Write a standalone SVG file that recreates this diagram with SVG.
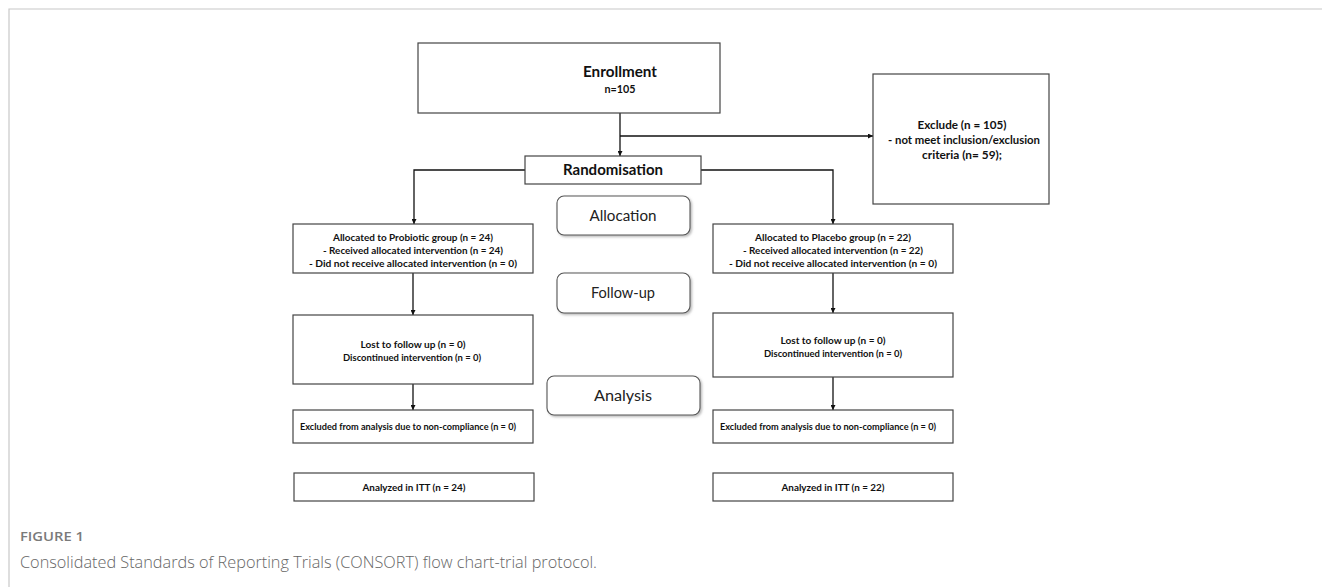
<svg xmlns="http://www.w3.org/2000/svg" width="1322" height="587" viewBox="0 0 1322 587">
<defs>
<marker id="arr" viewBox="0 0 10 10" refX="10" refY="5" markerWidth="5" markerHeight="5" markerUnits="userSpaceOnUse" orient="auto">
<path d="M0,0 L10,5 L0,10 z" fill="#111"/>
</marker>
<filter id="sh" x="-10%" y="-20%" width="130%" height="150%">
<feDropShadow dx="1.5" dy="1.5" stdDeviation="1" flood-color="#888" flood-opacity="0.6"/>
</filter>
</defs>
<style>
.box{fill:#fff;stroke:#444;stroke-width:1.2}
.rbox{fill:#fff;stroke:#555;stroke-width:1.1}
.t{font-family:Lato,"Liberation Sans",sans-serif;font-weight:bold;fill:#111;text-anchor:middle}
.s{font-family:Lato,"Liberation Sans",sans-serif;font-weight:normal;fill:#222;text-anchor:middle;font-size:15.5px}
.c{stroke:#111;stroke-width:1.3;fill:none}
.frame{stroke:#c8c8c8;stroke-width:1.2;fill:none}
.cap{font-family:"Open Sans","Liberation Sans",sans-serif;fill:#666}
</style>
<rect width="1322" height="587" fill="#fff"/>
<path class="frame" d="M9,587 L9,9 L1322,9"/>

<g id="connectors">
<path class="c" d="M620,113 L620,156" marker-end="url(#arr)"/>
<path class="c" d="M620,136 L873,136" marker-end="url(#arr)"/>
<path class="c" d="M525,170 L414,170 L414,224" marker-end="url(#arr)"/>
<path class="c" d="M701,170 L833,170 L833,224" marker-end="url(#arr)"/>
<path class="c" d="M413,273 L413,315" marker-end="url(#arr)"/>
<path class="c" d="M833,273 L833,313" marker-end="url(#arr)"/>
<path class="c" d="M413,384 L413,410" marker-end="url(#arr)"/>
<path class="c" d="M833,377 L833,410" marker-end="url(#arr)"/>
</g>

<g id="enrollment">
<rect class="box" x="418" y="43" width="302" height="70"/>
<text class="t" x="620" y="77" font-size="15" textLength="74" lengthAdjust="spacingAndGlyphs">Enrollment</text>
<text class="t" x="620" y="93" font-size="11" textLength="31" lengthAdjust="spacingAndGlyphs">n=105</text>
</g>

<g id="exclude">
<rect class="box" x="873" y="74" width="176" height="130"/>
<text class="t" x="962" y="129" font-size="12" textLength="89" lengthAdjust="spacingAndGlyphs">Exclude (n = 105)</text>
<text class="t" x="964" y="144" font-size="12" textLength="152" lengthAdjust="spacingAndGlyphs">- not meet inclusion/exclusion</text>
<text class="t" x="962" y="159" font-size="12" textLength="80" lengthAdjust="spacingAndGlyphs">criteria (n= 59);</text>
</g>

<g id="randomisation">
<rect class="box" x="525" y="156" width="176" height="28"/>
<text class="t" x="613" y="175" font-size="15" textLength="100" lengthAdjust="spacingAndGlyphs">Randomisation</text>
</g>

<g id="allocation-label">
<rect class="rbox" x="557" y="196" width="133" height="39" rx="7" filter="url(#sh)"/>
<text class="s" x="623" y="221" textLength="67" lengthAdjust="spacingAndGlyphs">Allocation</text>
</g>

<g id="followup-label">
<rect class="rbox" x="557" y="273" width="133" height="40" rx="7" filter="url(#sh)"/>
<text class="s" x="623" y="298" textLength="64" lengthAdjust="spacingAndGlyphs">Follow-up</text>
</g>

<g id="analysis-label">
<rect class="rbox" x="547" y="376" width="153" height="39" rx="7" filter="url(#sh)"/>
<text class="s" x="623" y="401" textLength="58" lengthAdjust="spacingAndGlyphs">Analysis</text>
</g>

<g id="alloc-probiotic">
<rect class="box" x="293" y="224" width="240" height="49"/>
<text class="t" x="413" y="241" font-size="10" textLength="160" lengthAdjust="spacingAndGlyphs">Allocated to Probiotic group (n = 24)</text>
<text class="t" x="413" y="254" font-size="10" textLength="180" lengthAdjust="spacingAndGlyphs">- Received allocated intervention (n = 24)</text>
<text class="t" x="413" y="267" font-size="10" textLength="208" lengthAdjust="spacingAndGlyphs">- Did not receive allocated intervention (n = 0)</text>
</g>

<g id="alloc-placebo">
<rect class="box" x="713" y="224" width="240" height="49"/>
<text class="t" x="833" y="241" font-size="10" textLength="156" lengthAdjust="spacingAndGlyphs">Allocated to Placebo group (n = 22)</text>
<text class="t" x="833" y="254" font-size="10" textLength="180" lengthAdjust="spacingAndGlyphs">- Received allocated intervention (n = 22)</text>
<text class="t" x="833" y="267" font-size="10" textLength="208" lengthAdjust="spacingAndGlyphs">- Did not receive allocated intervention (n = 0)</text>
</g>

<g id="lost-probiotic">
<rect class="box" x="293" y="315" width="240" height="69"/>
<text class="t" x="413" y="348" font-size="10" textLength="105" lengthAdjust="spacingAndGlyphs">Lost to follow up (n = 0)</text>
<text class="t" x="412" y="361" font-size="10" textLength="138" lengthAdjust="spacingAndGlyphs">Discontinued intervention (n = 0)</text>
</g>

<g id="lost-placebo">
<rect class="box" x="713" y="313" width="240" height="64"/>
<text class="t" x="833" y="344" font-size="10" textLength="105" lengthAdjust="spacingAndGlyphs">Lost to follow up (n = 0)</text>
<text class="t" x="833" y="357" font-size="10" textLength="138" lengthAdjust="spacingAndGlyphs">Discontinued intervention (n = 0)</text>
</g>

<g id="excluded-probiotic">
<rect class="box" x="293" y="410" width="240" height="33"/>
<text class="t" x="408" y="430" font-size="9" textLength="216" lengthAdjust="spacingAndGlyphs">Excluded from analysis due to non-compliance (n = 0)</text>
</g>

<g id="excluded-placebo">
<rect class="box" x="713" y="410" width="240" height="33"/>
<text class="t" x="828" y="430" font-size="9" textLength="216" lengthAdjust="spacingAndGlyphs">Excluded from analysis due to non-compliance (n = 0)</text>
</g>

<g id="itt-probiotic">
<rect class="box" x="294" y="473" width="240" height="28"/>
<text class="t" x="414" y="491" font-size="10" textLength="103" lengthAdjust="spacingAndGlyphs">Analyzed in ITT (n = 24)</text>
</g>

<g id="itt-placebo">
<rect class="box" x="713" y="473" width="240" height="28"/>
<text class="t" x="833" y="491" font-size="10" textLength="103" lengthAdjust="spacingAndGlyphs">Analyzed in ITT (n = 22)</text>
</g>

<g id="caption">
<text class="cap" x="20" y="541" font-size="12" font-weight="600" style="fill:#7a7a7a" textLength="64" lengthAdjust="spacingAndGlyphs">FIGURE 1</text>
<text class="cap" x="20" y="568" font-size="17" font-weight="300" textLength="577" lengthAdjust="spacingAndGlyphs">Consolidated Standards of Reporting Trials (CONSORT) flow chart-trial protocol.</text>
</g>
</svg>
